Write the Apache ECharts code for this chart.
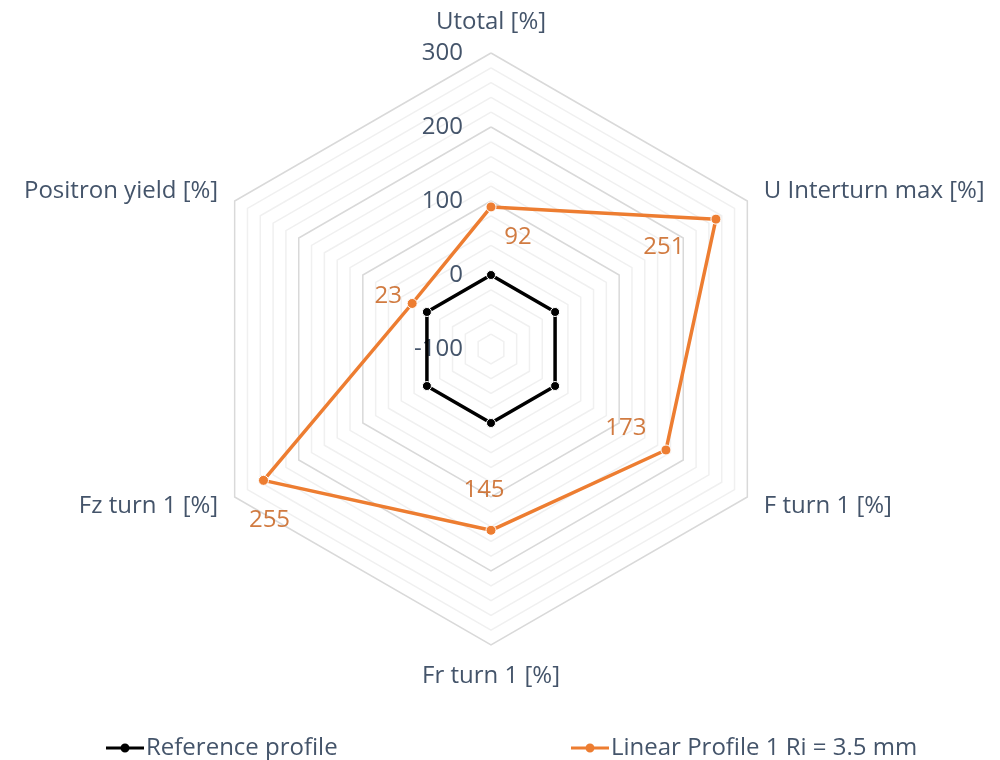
<!DOCTYPE html>
<html>
<head>
<meta charset="utf-8">
<script src="https://cdn.jsdelivr.net/npm/echarts@6/dist/echarts.min.js"></script>
<style>html,body{margin:0;padding:0;background:#fff}#c{width:1000px;height:760px}</style>
</head>
<body>
<div id="c"></div>
<script>
// Categories in clockwise order starting at the top
var categories = ['Utotal [%]', 'U Interturn max [%]', 'F turn 1 [%]', 'Fr turn 1 [%]', 'Fz turn 1 [%]', 'Positron yield [%]'];
var referenceValues = [0, 0, 0, 0, 0, 0];
var linearValues = [92, 251, 173, 145, 255, 23];
var tickLabels = [-100, 0, 100, 200, 300];
var seriesNames = ['Reference profile', 'Linear Profile 1 Ri = 3.5 mm'];

var TEXT = '#44546A', FONT = "'Open Sans'", FS = 24;
var BLACK = '#000000', ORANGE = '#ED7D31', LABEL = '#C55A11';
var axisMin = tickLabels[0], axisMax = tickLabels[tickLabels.length - 1];
var CENTER = [491, 349], R = 296;

// radar goes counter-clockwise: reorder
var ccw = [0, 5, 4, 3, 2, 1];
function reorder(a) { return ccw.map(function (i) { return a[i]; }); }

var labelOffsets = [[27, 30], [-52, 28], [-40, -22], [-7, -40], [6, 40], [-24, -7]];

var minorColor = '#f0f0f0', majorColor = '#d9d9d9';
var ICON = 'path://M0,3.4H38V6.6H0Z M19,0.5A4.5,4.5 0 1,1 18.99,0.5Z';

function legendFor(idx, left, color) {
  return {
    data: [{ name: seriesNames[idx], icon: ICON, itemStyle: { color: color, borderWidth: 0, opacity: 1 } }],
    left: left, top: 731, itemWidth: 38, itemHeight: 10, itemGap: 4,
    textStyle: { color: TEXT, fontSize: FS, fontFamily: FONT, padding: [0, 0, 0, -3] }
  };
}

var chart = echarts.init(document.getElementById('c'));
chart.setOption({
  backgroundColor: '#fff',
  textStyle: { fontFamily: FONT },
  animation: false,
  legend: [legendFor(0, 101, BLACK), legendFor(1, 566, ORANGE)],
  radar: {
    center: CENTER,
    radius: R,
    startAngle: 90,
    splitNumber: 20,
    shape: 'polygon',
    indicator: reorder(categories).map(function (n) { return { name: n, min: axisMin, max: axisMax }; }),
    axisName: { color: TEXT, fontSize: FS, fontFamily: FONT },
    nameGap: 19,
    axisLine: { show: false },
    axisTick: { show: false },
    axisLabel: { show: false },
    splitArea: { show: false },
    splitLine: { lineStyle: { width: 1.5, color: [majorColor, minorColor, minorColor, minorColor, minorColor] } }
  },
  polar: { center: CENTER, radius: R },
  angleAxis: {
    type: 'category', data: categories, startAngle: 90, clockwise: true, boundaryGap: false,
    axisLine: { show: false }, axisTick: { show: false }, axisLabel: { show: false }, splitLine: { show: false }
  },
  radiusAxis: {
    type: 'value', min: axisMin, max: axisMax, interval: 100,
    axisLine: { show: false }, axisTick: { show: false }, splitLine: { show: false },
    axisLabel: { color: TEXT, fontSize: FS, fontFamily: FONT, margin: 28 }
  },
  series: [
    {
      type: 'radar',
      symbol: 'circle',
      data: [
        { name: seriesNames[0], value: reorder(referenceValues),
          symbolSize: 9,
          lineStyle: { color: BLACK, width: 3.5 },
          itemStyle: { color: BLACK, borderColor: '#fff', borderWidth: 1 } },
        { name: seriesNames[1], value: reorder(linearValues),
          symbolSize: 10,
          lineStyle: { color: ORANGE, width: 3.5 },
          itemStyle: { color: ORANGE, borderColor: '#fff', borderWidth: 1 } }
      ],
      z: 3
    },
    {
      type: 'scatter',
      coordinateSystem: 'polar',
      symbolSize: 0,
      silent: true,
      data: linearValues.map(function (v, i) {
        return { value: [v, i], label: { show: true, position: 'inside', offset: labelOffsets[i] } };
      }),
      label: { show: true, color: LABEL, fontSize: FS, fontFamily: FONT, formatter: function (p) { return p.value[0]; } },
      z: 4
    }
  ]
});
</script>
</body>
</html>
